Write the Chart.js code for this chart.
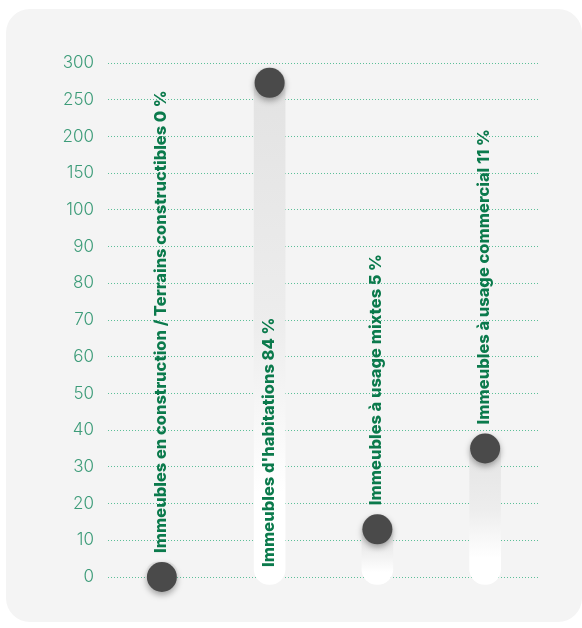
<!DOCTYPE html>
<html>
<head>
<meta charset="utf-8">
<script src="https://cdn.jsdelivr.net/npm/chart.js@4/dist/chart.umd.min.js"></script>
<style>
  html, body { margin: 0; padding: 0; background: #fff; }
  .card {
    position: absolute; left: 6px; top: 9px; width: 576px; height: 613px;
    background: #f4f4f4; border-radius: 24px;
  }
  #wrap { position: absolute; left: 0; top: 0; width: 582px; height: 628px; }
</style>
</head>
<body>
<div class="card"></div>
<div id="wrap"><canvas id="immoChart" width="582" height="628"></canvas></div>
<script>
// categories et valeurs
const categories = [
  'Immeubles en construction / Terrains constructibles',
  "Immeubles d'habitations",
  'Immeubles à usage mixtes',
  'Immeubles à usage commercial'
]
const percentages = [0, 84, 5, 11]
const values = [0, 273, 13, 35]
// l'axe n'est pas linéaire : graduations régulières mais pas de pas constant
const tickLabels = [0, 10, 20, 30, 40, 50, 60, 70, 80, 90, 100, 150, 200, 250, 300]

const GREEN_DARK = '#0b7a4c'
const GREEN_TICK = '#3d9c79'
const DOT_R = 15

// convertit une valeur en position sur l'échelle (index de graduation)
const toIndex = (v) => {
  for (let i = 1; i < tickLabels.length; i++) {
    if (v <= tickLabels[i]) {
      const a = tickLabels[i - 1], b = tickLabels[i]
      return i - 1 + (v - a) / (b - a)
    }
  }
  return tickLabels.length - 1
}
const mapped = values.map(toIndex)

const barGradient = (context) => {
  const chart = context.chart
  const { ctx, chartArea, scales } = chart
  if (!chartArea) return '#e6e6e6'
  const v = mapped[context.dataIndex]
  const top = scales.y.getPixelForValue(v) - DOT_R
  const bottom = scales.y.getPixelForValue(0) + 8
  const g = ctx.createLinearGradient(0, top, 0, bottom)
  g.addColorStop(0, '#e2e2e2')
  g.addColorStop(0.5, '#ededed')
  g.addColorStop(0.82, '#ffffff')
  g.addColorStop(1, '#ffffff')
  return g
}

// allonge les barres : au-dessus du point et un peu sous zéro
const pillPlugin = {
  id: 'pill',
  afterDatasetsUpdate(chart) {
    const meta = chart.getDatasetMeta(0)
    meta.data.forEach((el) => {
      el.y = el.y - DOT_R
      el.base = el.base + 8
      el.height = el.base - el.y
    })
  },
  beforeDatasetDraw(chart, args) {
    if (args.index === 1) {
      const ctx = chart.ctx
      ctx.save()
      ctx.shadowColor = 'rgba(0,0,0,0.35)'
      ctx.shadowBlur = 6
      ctx.shadowOffsetY = 3
    }
  },
  afterDatasetDraw(chart, args) {
    if (args.index === 1) chart.ctx.restore()
  },
  afterDatasetsDraw(chart) {
    const ctx = chart.ctx
    const y = chart.scales.y
    const meta = chart.getDatasetMeta(0)
    ctx.save()
    ctx.font = '800 16.5px Inter'
    ctx.fillStyle = GREEN_DARK
    ctx.textBaseline = 'middle'
    ctx.textAlign = 'left'
    meta.data.forEach((el, i) => {
      const txt = categories[i] + ' ' + percentages[i] + ' %'
      const w = ctx.measureText(txt).width
      const dotTop = y.getPixelForValue(mapped[i]) - DOT_R
      const bottom = y.getPixelForValue(0) + 8
      let start
      if (w + 18 + 2 * DOT_R < bottom - dotTop) start = bottom - 18
      else start = dotTop - 9
      ctx.save()
      ctx.translate(el.x - 1, start)
      ctx.rotate(-Math.PI / 2)
      ctx.fillText(txt, 0, 0)
      ctx.restore()
    })
    ctx.restore()
  }
}

const ctx = document.getElementById('immoChart')
new Chart(ctx, {
  type: 'bar',
  data: {
    labels: categories,
    datasets: [
      {
        type: 'bar',
        data: mapped,
        backgroundColor: barGradient,
        borderRadius: 16,
        borderSkipped: false,
        barThickness: 31,
        clip: false,
        order: 2
      },
      {
        type: 'line',
        data: mapped,
        showLine: false,
        pointRadius: DOT_R,
        pointHoverRadius: DOT_R,
        pointBackgroundColor: '#4a4a4a',
        pointBorderWidth: 0,
        clip: false,
        order: 1
      }
    ]
  },
  options: {
    responsive: false,
    animation: false,
    events: [],
    layout: { padding: { top: 63, bottom: 51, left: 0, right: 43 } },
    plugins: { legend: { display: false }, tooltip: { enabled: false } },
    scales: {
      x: { display: false },
      y: {
        min: 0,
        max: tickLabels.length - 1,
        afterFit: (scale) => { scale.width = 108 },
        ticks: {
          stepSize: 1,
          padding: 14,
          color: GREEN_TICK,
          font: { family: 'Inter', size: 17, weight: '300' },
          callback: (val) => tickLabels[val]
        },
        grid: { color: '#5cbf98', lineWidth: 1, drawTicks: false },
        border: { display: false, dash: [1, 2] }
      }
    }
  },
  plugins: [pillPlugin]
})
</script>
</body>
</html>
